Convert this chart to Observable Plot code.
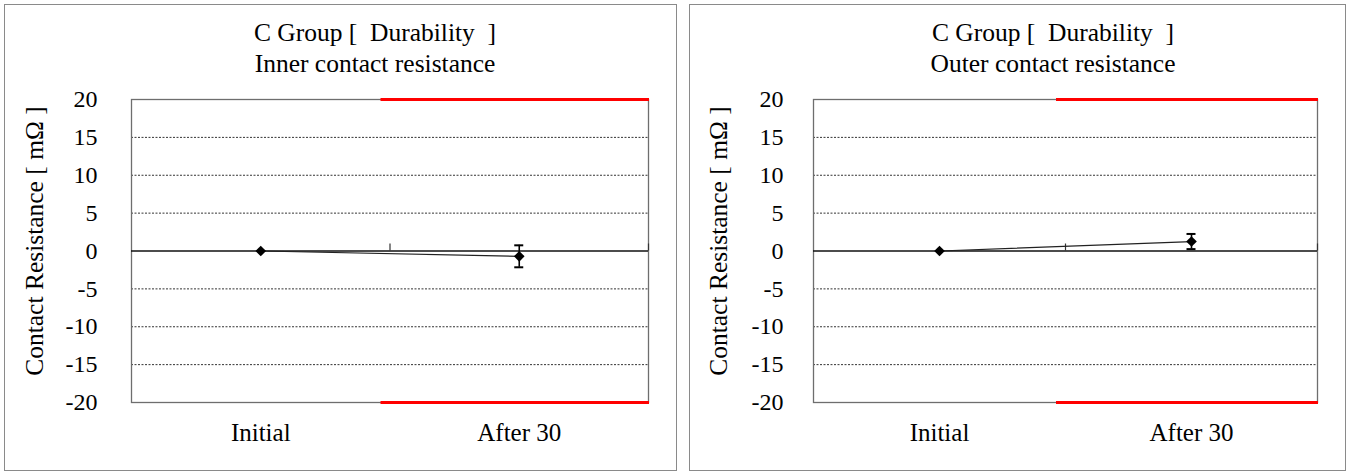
<!DOCTYPE html>
<html>
<head>
<meta charset="utf-8">
<script src="https://cdn.jsdelivr.net/npm/d3@7"></script>
<script src="https://cdn.jsdelivr.net/npm/@observablehq/plot@0.6"></script>
<style>
  html, body { margin: 0; padding: 0; background: #fff; }
  body { width: 1351px; height: 472px; position: relative; overflow: hidden; font-family: "Liberation Serif", "DejaVu Serif", serif; }
  .panel { position: absolute; box-sizing: border-box; border: 1px solid #8a8a8a; background: #fff; }
  .title { font-size: 25.5px; line-height: 31px; padding-top: 12px; text-align: center; white-space: pre; color: #000; }
  .panel svg { display: block; }
  .panel svg, .panel svg text { font-family: "Liberation Serif", serif !important; }
</style>
</head>
<body>
<div id="left" class="panel" style="left:4px; top:4px; width:673px; height:467px;"></div>
<div id="right" class="panel" style="left:689px; top:4px; width:657px; height:467px;"></div>
<script>
// ---- data ----
const categories = ["Initial", "After 30"];
const innerMean = [0, -0.7];
const innerErr = [0, 1.45];
const outerMean = [0, 1.25];
const outerErr = [0, 1.0];
const yTicks = [20, 15, 10, 5, 0, -5, -10, -15, -20];
const gridValues = [15, 10, 5, -5, -10, -15];
const limitUpper = 20;
const limitLower = -20;
const limitCategory = "After 30";
const titleLine1 = "C Group [  Durability  ]";
const innerTitle = "Inner contact resistance";
const outerTitle = "Outer contact resistance";
const yLabel = "Contact Resistance [ mΩ ]";

const SERIF = "'Liberation Serif', serif";

function makePanel(el, subtitle, means, errs, opt) {
  const t = document.createElement("div");
  t.className = "title";
  t.style.paddingLeft = opt.titlePad + "px";
  t.textContent = titleLine1 + "\n" + subtitle;
  el.appendChild(t);

  const data = categories.map((c, i) => ({cat: c, xi: i + 0.5, mean: means[i], err: errs[i],
    lo: means[i] - errs[i], hi: means[i] + errs[i]}));
  const errData = data.filter(d => d.err > 0);
  const li = categories.indexOf(limitCategory);
  const limits = [limitUpper, limitLower].map(v => ({v, x1: li, x2: li + 1}));
  const sepTicks = categories.map((_, i) => i + 1);

  const chart = Plot.plot({
    width: opt.width,
    height: 391,
    marginTop: 20,
    marginBottom: 68,
    marginLeft: opt.marginLeft,
    marginRight: opt.marginRight,
    style: {fontFamily: SERIF, fontSize: "24px", background: "transparent", color: "#000"},
    x: {domain: [0, categories.length], axis: null},
    y: {domain: [limitLower, limitUpper], axis: null},
    marks: [
      Plot.ruleY(gridValues, {stroke: "#333", strokeWidth: 1, strokeDasharray: "2,1.5"}),
      Plot.frame({stroke: "#6e6e6e", strokeWidth: 1.3}),
      Plot.ruleY([0], {stroke: "#111", strokeWidth: 1.3}),
      Plot.ruleX(sepTicks, {y1: 0, y2: 0, insetTop: -7, stroke: "#333", strokeWidth: 1.2}),
      Plot.ruleY(limits, {y: "v", x1: "x1", x2: "x2", insetLeft: -9, insetRight: -1, stroke: "#ff0000", strokeWidth: 3}),
      Plot.line(data, {x: "xi", y: "mean", stroke: "#222", strokeWidth: 1.2}),
      Plot.ruleX(errData, {x: "xi", y1: "lo", y2: "hi", stroke: "#000", strokeWidth: 1.6}),
      Plot.ruleY(errData, {x1: "xi", x2: "xi", y: "hi", insetLeft: -4.5, insetRight: -4.5, stroke: "#000", strokeWidth: 2}),
      Plot.ruleY(errData, {x1: "xi", x2: "xi", y: "lo", insetLeft: -4.5, insetRight: -4.5, stroke: "#000", strokeWidth: 2}),
      Plot.dot(data, {x: "xi", y: "mean", symbol: "diamond2", r: 4.8, fill: "#000", stroke: "none"}),
      Plot.axisY({ticks: yTicks, tickFormat: d => String(d), tickSize: 0, tickPadding: opt.tickPad, label: null, fontSize: 24, fontFamily: SERIF}),
      Plot.axisX({ticks: data.map(d => d.xi), tickFormat: d => categories[Math.floor(d)], tickSize: 0, tickPadding: 21, label: null, fontSize: 25, fontFamily: SERIF}),
      Plot.text([yLabel], {frameAnchor: "left", text: d => d, rotate: -90, dx: opt.labelDx, dy: -10, fontSize: 25.5, fontFamily: SERIF, textAnchor: "middle", fill: "#000"})
    ]
  });
  el.appendChild(chart);
}

makePanel(document.getElementById("left"), innerTitle, innerMean, innerErr,
  {width: 671, marginLeft: 126, marginRight: 28, titlePad: 69, tickPad: 34, labelDx: -97});
makePanel(document.getElementById("right"), outerTitle, outerMean, outerErr,
  {width: 655, marginLeft: 123, marginRight: 28, titlePad: 71, tickPad: 30, labelDx: -95});
</script>
</body>
</html>
